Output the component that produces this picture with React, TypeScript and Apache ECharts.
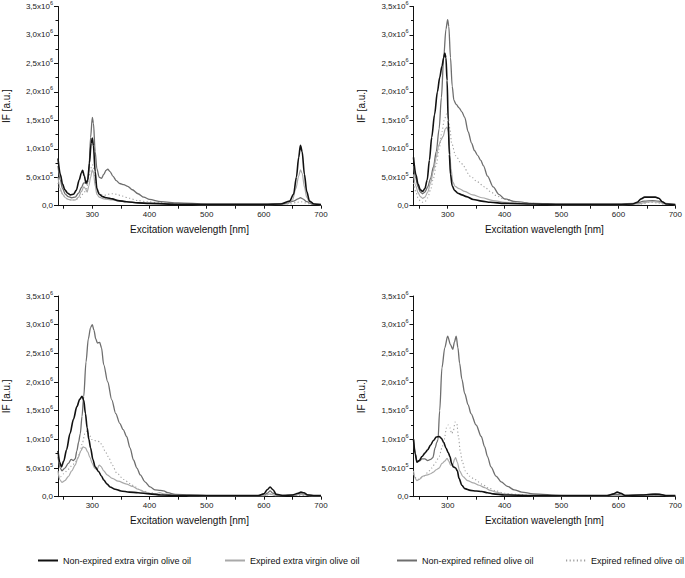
import React, { useEffect, useRef } from 'react';
import * as echarts from 'echarts';

// Series names (legend order)
const SERIES_NAMES = [
  'Non-expired extra virgin olive oil',
  'Expired extra virgin olive oil',
  'Non-expired refined olive oil',
  'Expired refined olive oil',
];

const X_LABEL_VALUES = [300, 400, 500, 600, 700];
const X_TICK_VALUES = [250, 300, 350, 400, 450, 500, 550, 600, 650, 700];
const X_MIN = 240;
const X_MAX = 700;
const Y_MAX = 3.5; // in units of 10^6
const Y_STEP = 0.5;

// Values are in units of 10^6 a.u.; x = excitation wavelength [nm]
// ---- Panel A (top-left)
const aBlack = [[240,0.83],[244,0.55],[248,0.38],[252,0.28],[257,0.22],[262,0.19],[267,0.2],[272,0.27],[277,0.45],[281,0.58],[283,0.62],[286,0.52],[289,0.4],[292,0.45],[295,0.75],[298,1.1],[300,1.19],[302,1.05],[305,0.6],[308,0.3],[312,0.2],[318,0.16],[325,0.14],[335,0.12],[345,0.09],[360,0.07],[380,0.05],[400,0.04],[450,0.025],[500,0.02],[550,0.02],[600,0.02],[630,0.03],[645,0.08],[652,0.2],[657,0.5],[661,0.85],[664,1.06],[667,0.95],[671,0.55],[675,0.25],[680,0.08],[688,0.03],[700,0.02]];
const aLight = [[240,0.5],[244,0.3],[248,0.2],[253,0.14],[258,0.11],[264,0.1],[270,0.1],[276,0.15],[281,0.25],[285,0.33],[288,0.3],[291,0.24],[294,0.35],[297,0.5],[300,0.63],[302,0.58],[305,0.35],[308,0.2],[312,0.15],[320,0.12],[335,0.1],[350,0.08],[370,0.06],[400,0.04],[450,0.03],[500,0.02],[600,0.02],[640,0.03],[650,0.1],[656,0.3],[661,0.52],[664,0.63],[667,0.57],[671,0.33],[675,0.15],[680,0.06],[688,0.03],[700,0.02]];
const aMed = [[240,0.7],[244,0.45],[248,0.3],[253,0.2],[258,0.16],[264,0.14],[270,0.15],[276,0.22],[281,0.32],[285,0.4],[288,0.4],[291,0.38],[294,0.6],[297,1.2],[300,1.55],[302,1.45],[305,0.95],[308,0.65],[312,0.5],[316,0.48],[320,0.55],[324,0.62],[327,0.64],[331,0.6],[336,0.52],[342,0.44],[348,0.39],[355,0.37],[362,0.34],[370,0.28],[380,0.21],[390,0.15],[400,0.11],[420,0.07],[450,0.05],[500,0.03],[600,0.03],[640,0.04],[652,0.08],[660,0.12],[664,0.14],[668,0.12],[675,0.07],[685,0.03],[700,0.02]];
const aDot = [[240,0.4],[245,0.25],[250,0.17],[256,0.12],[262,0.1],[270,0.1],[278,0.14],[285,0.22],[290,0.3],[294,0.5],[297,0.65],[300,0.72],[302,0.68],[305,0.45],[309,0.28],[314,0.2],[320,0.18],[327,0.2],[335,0.21],[343,0.2],[352,0.17],[365,0.13],[380,0.09],[395,0.07],[420,0.05],[460,0.03],[500,0.02],[600,0.02],[645,0.03],[658,0.06],[665,0.07],[672,0.05],[685,0.02],[700,0.02]];

// ---- Panel B (top-right)
const bBlack = [[240,0.85],[244,0.55],[248,0.38],[252,0.28],[256,0.25],[260,0.3],[264,0.45],[268,0.8],[272,1.2],[277,1.6],[282,2.0],[286,2.25],[290,2.45],[293,2.6],[295,2.68],[297,2.6],[299,2.2],[301,1.5],[303,0.9],[305,0.55],[308,0.35],[312,0.27],[318,0.22],[325,0.19],[333,0.16],[345,0.11],[360,0.08],[375,0.06],[400,0.04],[450,0.03],[500,0.02],[600,0.02],[625,0.03],[633,0.06],[640,0.12],[646,0.15],[655,0.15],[665,0.15],[671,0.13],[677,0.07],[684,0.03],[700,0.02]];
const bLight = [[240,0.55],[244,0.35],[248,0.23],[252,0.16],[256,0.13],[260,0.15],[265,0.24],[270,0.4],[275,0.62],[280,0.85],[284,1.05],[288,1.15],[292,1.22],[296,1.35],[299,1.38],[301,1.3],[303,1.05],[306,0.65],[309,0.42],[313,0.34],[320,0.3],[330,0.25],[344,0.19],[360,0.14],[380,0.09],[400,0.06],[450,0.03],[500,0.02],[600,0.02],[635,0.03],[648,0.06],[660,0.07],[672,0.06],[684,0.03],[700,0.02]];
const bMed = [[240,0.7],[244,0.48],[248,0.33],[252,0.24],[256,0.21],[260,0.24],[265,0.33],[270,0.48],[275,0.68],[280,0.95],[285,1.35],[289,1.9],[293,2.6],[297,3.1],[300,3.27],[302,3.15],[305,2.6],[308,2.1],[311,1.85],[315,1.78],[320,1.72],[325,1.65],[330,1.55],[336,1.3],[342,1.1],[347,0.97],[353,0.88],[358,0.8],[363,0.7],[370,0.52],[380,0.33],[390,0.2],[400,0.12],[420,0.07],[450,0.04],[500,0.03],[600,0.03],[630,0.04],[645,0.08],[660,0.09],[670,0.08],[680,0.04],[700,0.02]];
const bDot = [[240,0.4],[244,0.25],[248,0.14],[252,0.08],[256,0.06],[260,0.07],[265,0.14],[270,0.28],[275,0.48],[280,0.72],[285,1.0],[290,1.3],[294,1.5],[298,1.61],[301,1.55],[304,1.35],[307,1.1],[314,0.88],[324,0.74],[341,0.51],[352,0.42],[365,0.33],[375,0.25],[385,0.18],[400,0.11],[420,0.06],[450,0.04],[500,0.02],[600,0.02],[640,0.03],[655,0.06],[668,0.05],[682,0.02],[700,0.02]];

// ---- Panel C (bottom-left)
const cBlack = [[240,0.8],[243,0.6],[246,0.52],[250,0.62],[255,0.82],[261,1.1],[267,1.35],[273,1.57],[278,1.7],[282,1.75],[285,1.68],[288,1.45],[291,1.2],[294,1.0],[297,0.85],[301,0.65],[305,0.52],[311,0.44],[316,0.36],[320,0.29],[326,0.22],[331,0.17],[340,0.13],[350,0.1],[365,0.08],[380,0.07],[400,0.05],[420,0.03],[450,0.02],[500,0.02],[590,0.02],[600,0.05],[606,0.12],[611,0.17],[616,0.12],[622,0.04],[635,0.02],[650,0.03],[660,0.06],[665,0.08],[670,0.07],[677,0.03],[690,0.02],[700,0.02]];
const cLight = [[240,0.45],[243,0.3],[247,0.25],[252,0.28],[258,0.35],[264,0.45],[270,0.55],[275,0.68],[280,0.8],[284,0.87],[288,0.85],[292,0.78],[296,0.68],[300,0.58],[304,0.5],[308,0.47],[312,0.55],[315,0.53],[320,0.45],[326,0.38],[335,0.32],[345,0.27],[360,0.22],[370,0.18],[380,0.13],[390,0.09],[400,0.06],[410,0.05],[418,0.07],[425,0.05],[440,0.03],[470,0.02],[600,0.02],[611,0.05],[620,0.02],[665,0.04],[680,0.02],[700,0.02]];
const cMed = [[240,0.7],[244,0.5],[247,0.45],[252,0.5],[258,0.58],[263,0.65],[267,0.63],[270,0.66],[273,0.8],[276,0.95],[279,1.1],[282,1.4],[285,1.75],[289,2.35],[293,2.75],[297,2.95],[300,3.0],[303,2.9],[306,2.75],[309,2.68],[313,2.69],[316,2.6],[320,2.3],[327,2.0],[334,1.69],[341,1.45],[348,1.28],[354,1.17],[360,1.05],[366,0.85],[372,0.64],[378,0.5],[384,0.38],[392,0.26],[401,0.17],[410,0.12],[419,0.11],[425,0.1],[432,0.07],[445,0.04],[470,0.03],[500,0.02],[600,0.02],[606,0.06],[611,0.1],[616,0.06],[625,0.02],[655,0.03],[665,0.05],[672,0.04],[685,0.02],[700,0.02]];
const cDot = [[240,0.4],[245,0.35],[250,0.4],[258,0.48],[265,0.55],[272,0.62],[278,0.75],[283,0.95],[287,1.1],[291,1.15],[295,1.08],[299,1.0],[303,0.98],[308,0.97],[313,0.96],[317,0.9],[322,0.8],[328,0.7],[335,0.55],[343,0.41],[355,0.3],[366,0.23],[375,0.17],[385,0.11],[400,0.07],[420,0.04],[450,0.02],[600,0.02],[611,0.04],[620,0.02],[700,0.02]];

// ---- Panel D (bottom-right)
const dBlack = [[240,1.0],[243,0.75],[246,0.6],[250,0.63],[255,0.7],[260,0.76],[265,0.82],[270,0.9],[275,0.98],[280,1.04],[285,1.05],[289,1.02],[293,0.95],[297,0.85],[301,0.77],[304,0.7],[307,0.58],[310,0.52],[314,0.5],[317,0.45],[320,0.32],[325,0.2],[330,0.14],[340,0.11],[350,0.1],[360,0.09],[370,0.07],[380,0.05],[400,0.03],[450,0.02],[580,0.02],[592,0.05],[598,0.08],[604,0.06],[612,0.02],[640,0.03],[660,0.04],[672,0.04],[685,0.02],[700,0.02]];
const dLight = [[240,0.45],[243,0.32],[246,0.28],[250,0.3],[255,0.35],[260,0.37],[265,0.38],[270,0.4],[275,0.43],[280,0.47],[285,0.5],[290,0.58],[295,0.62],[299,0.67],[302,0.62],[305,0.55],[309,0.56],[312,0.65],[314,0.68],[317,0.6],[321,0.45],[327,0.35],[335,0.28],[345,0.24],[355,0.2],[365,0.16],[375,0.11],[385,0.08],[400,0.05],[420,0.03],[450,0.02],[600,0.02],[610,0.03],[700,0.02]];
const dMed = [[240,1.0],[243,0.75],[246,0.62],[250,0.62],[255,0.66],[260,0.66],[265,0.63],[270,0.65],[274,0.68],[278,0.85],[281,0.95],[283,0.99],[286,1.5],[290,2.25],[295,2.6],[300,2.8],[305,2.65],[309,2.57],[312,2.7],[315,2.8],[318,2.6],[321,2.33],[325,2.05],[330,1.8],[336,1.6],[341,1.45],[350,1.25],[359,1.05],[365,0.87],[370,0.7],[376,0.52],[385,0.36],[394,0.26],[405,0.18],[417,0.12],[430,0.08],[450,0.05],[500,0.02],[580,0.02],[598,0.04],[610,0.02],[640,0.03],[665,0.05],[685,0.02],[700,0.02]];
const dDot = [[240,0.4],[245,0.32],[250,0.3],[257,0.35],[265,0.42],[272,0.5],[279,0.6],[285,0.7],[290,0.85],[294,1.0],[298,1.2],[301,1.25],[304,1.2],[307,1.1],[310,1.15],[313,1.3],[316,1.28],[319,1.05],[322,0.8],[326,0.6],[331,0.45],[338,0.36],[348,0.3],[360,0.22],[372,0.15],[385,0.1],[400,0.06],[420,0.04],[450,0.02],[700,0.02]];

const PANELS = [
  [aBlack, aLight, aMed, aDot],
  [bBlack, bLight, bMed, bDot],
  [cBlack, cLight, cMed, cDot],
  [dBlack, dLight, dMed, dDot],
];

const FONT = 'Liberation Sans, Arial, Helvetica, sans-serif';

const LINE_STYLES = [
  { color: '#111111', width: 1.6, type: 'solid' as any },
  { color: '#a9a9a9', width: 1.2, type: 'solid' as any },
  { color: '#6e6e6e', width: 1.3, type: 'solid' as any },
  { color: '#a0a0a0', width: 1.1, type: [1.2, 2.4] as any },
];

const GRIDS = [
  { left: 57.6, top: 5, width: 263.4, height: 200.7 },
  { left: 413.5, top: 5, width: 264.2, height: 200.7 },
  { left: 57.6, top: 296, width: 263.4, height: 200.7 },
  { left: 413.5, top: 296, width: 264.2, height: 200.7 },
];

const LEGEND_POS = [37, 224, 396, 565];

function yLabel(v: number): string {
  if (Math.abs(v) < 1e-9) return '{m|0,0}';
  const exp = v >= 1 ? 6 : 5;
  const mant = v >= 1 ? v : v * 10;
  return `{m|${mant.toFixed(1).replace('.', ',')}x10}{e|${exp}}`;
}

export default function App() {
  const ref = useRef<HTMLDivElement>(null);
  useEffect(() => {
    document.body.style.margin = '0';
    if (!ref.current) return;
    const chart = echarts.init(ref.current, undefined, { renderer: 'svg' });

    const xAxes = GRIDS.map((_, i) => ({
      type: 'value',
      gridIndex: i,
      min: X_MIN,
      max: X_MAX,
      name: 'Excitation wavelength [nm]',
      nameLocation: 'middle',
      nameGap: 19,
      nameTextStyle: { fontSize: 10, color: '#111', fontFamily: FONT },
      axisLine: { show: true, onZero: false, lineStyle: { color: '#111', width: 1 } },
      axisTick: { show: true, inside: false, length: 3, customValues: X_TICK_VALUES, lineStyle: { color: '#111' } },
      axisLabel: { show: true, customValues: X_LABEL_VALUES, fontSize: 8, margin: 5, color: '#222', fontFamily: FONT },
      splitLine: { show: false },
    }));

    const yAxes = GRIDS.map((_, i) => ({
      type: 'value',
      gridIndex: i,
      min: 0,
      max: Y_MAX,
      interval: Y_STEP,
      name: 'IF [a.u.]',
      nameLocation: 'middle',
      nameGap: 47,
      nameTextStyle: { fontSize: 10, color: '#111', fontFamily: FONT },
      axisLine: { show: true, lineStyle: { color: '#111', width: 1 } },
      axisTick: { show: true, inside: false, length: 4, lineStyle: { color: '#111' } },
      minorTick: { show: true, splitNumber: 2, length: 2.5, lineStyle: { color: '#111' } },
      axisLabel: {
        show: true,
        margin: 5,
        formatter: yLabel,
        rich: {
          m: { fontSize: 8, color: '#222', fontFamily: FONT },
          e: { fontSize: 5.5, color: '#222', fontFamily: FONT, padding: [0, 0, 7, 0] },
        },
      },
      splitLine: { show: false },
    }));

    const drawOrder = [3, 1, 2, 0];
    const series: any[] = [];
    PANELS.forEach((panel, pi) => {
      drawOrder.forEach((si) => {
        series.push({
          type: 'line',
          name: SERIES_NAMES[si],
          xAxisIndex: pi,
          yAxisIndex: pi,
          data: panel[si],
          symbol: 'none',
          smooth: 0.3,
          smoothMonotone: 'x',
          lineStyle: LINE_STYLES[si],
          itemStyle: { color: LINE_STYLES[si].color },
          z: 2 + (3 - si),
        });
      });
    });

    const legends = SERIES_NAMES.map((name, i) => ({
      show: true,
      left: LEGEND_POS[i],
      top: 556,
      data: [name],
      itemWidth: 20,
      itemHeight: 10,
      itemGap: 5,
      padding: 0,
      itemStyle: { color: 'rgba(0,0,0,0)', borderColor: 'rgba(0,0,0,0)', borderWidth: 0, opacity: 0 },
      textStyle: { fontSize: 9, color: '#111', fontFamily: FONT },
      selectedMode: false,
    }));

    chart.setOption({
      animation: false,
      backgroundColor: '#ffffff',
      grid: GRIDS.map((g) => ({ ...g, containLabel: false })),
      xAxis: xAxes,
      yAxis: yAxes,
      legend: legends,
      series,
    } as any);

    return () => chart.dispose();
  }, []);

  return <div ref={ref} style={{ width: 685, height: 578 }} />;
}
